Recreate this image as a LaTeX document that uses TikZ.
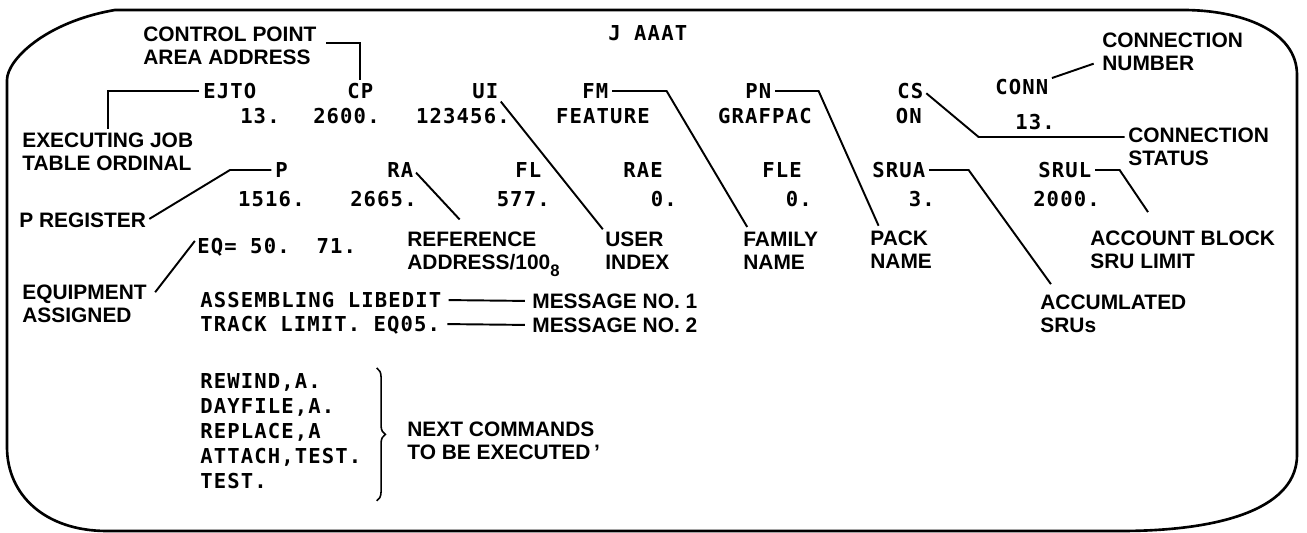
\documentclass[tikz,border=0pt]{standalone}
\usepackage{fontspec}
\setmainfont{Liberation Sans}
\newfontfamily\scrfont[LetterSpace=5.5]{DejaVu Sans Mono}
\usetikzlibrary{positioning,calc,decorations.pathreplacing}

\tikzset{
  lbl/.style={font=\bfseries\fontsize{11.9}{13.1}\selectfont,align=left,inner sep=0pt,anchor=north west},
  scr/.style={font=\scrfont\bfseries\fontsize{11.7}{14.2}\selectfont,inner sep=0pt,text height=8.5pt,text depth=0pt},
  scrblock/.style={font=\scrfont\bfseries\fontsize{11.7}{14.2}\selectfont,inner sep=0pt,align=left,anchor=north west},
  lead/.style={line width=1.1pt,shorten <=2pt,shorten >=2pt},
  screen/.style={line width=1.5pt},
  cmdbrace/.style={decorate,decoration={brace,amplitude=5pt},line width=0.9pt}
}

\begin{document}
\begin{tikzpicture}[x=0.02cm,y=-0.02cm]
\useasboundingbox (0,0) rectangle (1307,533);
% screen outline
\draw[screen] (7,80) .. controls (7,60) and (45,22) .. (115,10)
  -- (1183,10) .. controls (1240,10) and (1297,30) .. (1297,75)
  -- (1297,455) .. controls (1297,505) and (1230,531) .. (1120,531)
  -- (107,531) .. controls (45,531) and (7,495) .. (7,447) -- cycle;
% screen text, row by row
\node[scr,anchor=west] (job) at (608,33) {J AAAT};
\foreach \nm/\x/\lab in {ejto/203/EJTO,cp/347/CP,ui/472/UI,fm/582/FM,pn/745/PN,cs/897/CS}
  \node[scr,anchor=west] (\nm) at (\x,91) {\lab};
\node[scr,anchor=west] (conn) at (995,87) {CONN};
\foreach \nm/\x/\lab in {vejto/280/13.,vcp/380/2600.,vui/510/123456.,vfm/650/FEATURE,vpn/812/GRAFPAC,vcs/922/ON}
  \node[scr,anchor=east] (\nm) at (\x,116) {\lab};
\node[scr,anchor=east] (vconn) at (1055,122) {13.};
\foreach \nm/\x/\lab in {p/275/P,ra/387/RA,fl/515/FL,rae/623/RAE,fle/762/FLE,srua/872/SRUA,srul/1038/SRUL}
  \node[scr,anchor=west] (\nm) at (\x,170) {\lab};
\foreach \nm/\x/\lab in {vp/305/1516.,vra/417/2665.,vfl/550/577.,vrae/677/0.,vfle/812/0.,vsrua/935/3.,vsrul/1100/2000.}
  \node[scr,anchor=east] (\nm) at (\x,199) {\lab};
\node[scr,anchor=west] (eq) at (197,246) {EQ=~50.~~71.};
\node[scr,anchor=west] (msg1) at (200,300) {ASSEMBLING LIBEDIT};
\node[scr,anchor=west] (msg2) at (200,324) {TRACK LIMIT. EQ05.};
\node[scrblock] (cmds) at (200,373) {REWIND,A.\\DAYFILE,A.\\REPLACE,A\\ATTACH,TEST.\\TEST.};
% labels
\node[lbl] (cplbl) at (143,27) {CONTROL POINT\\AREA ADDRESS};
\node[lbl] (ejtolbl) at (22,133) {EXECUTING JOB\\TABLE ORDINAL};
\node[lbl] (cnlbl) at (1102,33) {CONNECTION\\NUMBER};
\node[lbl] (cslbl) at (1128,128) {CONNECTION\\STATUS};
\node[lbl] (plbl) at (19,213) {P REGISTER};
\node[lbl] (ralbl) at (407,232) {REFERENCE\\ADDRESS/100\raisebox{-4pt}{\fontsize{9.5}{9.5}\selectfont 8}};
\node[lbl] (uilbl) at (605,232) {USER\\INDEX};
\node[lbl] (fmlbl) at (743,232) {FAMILY\\NAME};
\node[lbl] (pnlbl) at (870,231) {PACK\\NAME};
\node[lbl] (srullbl) at (1090,231) {ACCOUNT BLOCK\\SRU LIMIT};
\node[lbl] (eqlbl) at (22,285) {EQUIPMENT\\ASSIGNED};
\node[lbl] (srualbl) at (1040,295) {ACCUMLATED\\SRUs};
\node[lbl,anchor=west] (m1lbl) at (532,301) {MESSAGE NO. 1};
\node[lbl,anchor=west] (m2lbl) at (532,325) {MESSAGE NO. 2};
\node[lbl] (nextlbl) at (407,422) {NEXT COMMANDS\\TO BE EXECUTED\,'};
% leader lines
\draw[lead] ($(cplbl.north east)+(6,16)$) -| (cp.north);
\draw[lead] (ejto.west) -| (ejtolbl.north);
\draw[lead] (ui.south east) -- (uilbl.north west);
\draw[lead] (fm.east) -- ++(58,0) -- ($(fmlbl.north west)+(6,-2)$);
\draw[lead] (pn.east) -- ++(47,0) -- ($(pnlbl.north west)+(10,-2)$);
\draw[lead] (cs.east) -- ++(55,46) coordinate (cskink) -- (cskink -| cslbl.west);
\draw[lead] (conn.north east) -- ($(cnlbl.south west)+(-5,-9)$);
\draw[lead] (ra.east) -- ($(ralbl.north west)+(55,-10)$);
\draw[lead] (p.west) -- ++(-45,0) -- (plbl.east);
\draw[lead] (eq.north west) -- ($(eqlbl.north east)+(6,10)$);
\draw[lead] (srua.east) -- ++(43,0) -- ($(srualbl.north west)+(13,-8)$);
\draw[lead] (srul.east) -- ++(28,0) -- ($(srullbl.north west)+(60,-16)$);
\draw[lead,shorten <=4pt,shorten >=4pt] (msg1.east) -- (m1lbl.west);
\draw[lead,shorten <=4pt,shorten >=4pt] (msg2.east) -- (m2lbl.west);
% brace round the command queue
\draw[cmdbrace] ($(cmds.north east)+(15,-5)$) -- ($(cmds.south east)+(15,12)$);
\end{tikzpicture}
\end{document}
